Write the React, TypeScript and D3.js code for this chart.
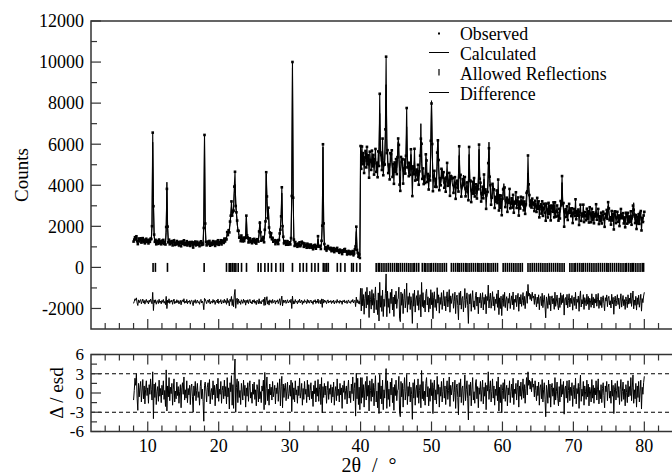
import * as d3 from "d3";

const startAngle = 8;
const angleStep = 0.1;

// calculated profile (counts), one row per degree starting at 8.0
const calculated = [
  1330, 1330, 1320, 1320, 1320, 1320, 1310, 1310, 1310, 1300,
  1300, 1300, 1290, 1290, 1290, 1280, 1280, 1280, 1270, 1270,
  1270, 1270, 1260, 1260, 1260, 1350, 2100, 6100, 3400, 1500,
  1290, 1240, 1240, 1240, 1230, 1230, 1230, 1230, 1220, 1220,
  1220, 1220, 1220, 1210, 1210, 1250, 1700, 4150, 1900, 1260,
  1200, 1200, 1200, 1190, 1190, 1190, 1190, 1180, 1180, 1180,
  1180, 1180, 1170, 1170, 1170, 1170, 1170, 1170, 1170, 1165,
  1165, 1165, 1160, 1160, 1160, 1160, 1160, 1160, 1155, 1155,
  1155, 1155, 1155, 1150, 1150, 1150, 1150, 1150, 1150, 1150,
  1150, 1150, 1150, 1150, 1150, 1150, 1150, 1150, 1200, 2300,
  6280, 2000, 1220, 1160, 1160, 1160, 1160, 1160, 1160, 1160,
  1160, 1165, 1165, 1170, 1170, 1170, 1175, 1175, 1180, 1180,
  1180, 1190, 1200, 1210, 1220, 1230, 1240, 1250, 1270, 1300,
  1330, 1480, 1550, 1620, 1750, 1900, 2100, 2500, 2950, 2700,
  2600, 3000, 3600, 4050, 3300, 2600, 2100, 1900, 1650, 1500,
  1420, 1400, 1450, 1380, 1340, 1320, 1310, 1350, 1600, 2450,
  1600, 1350, 1300, 1300, 1290, 1290, 1290, 1280, 1280, 1280,
  1280, 1280, 1290, 1290, 1290, 1300, 1350, 1600, 2250, 1700,
  1400, 1310, 1320, 1350, 1400, 1600, 2400, 4550, 3200, 2500,
  2850, 2100, 1600, 1500, 1600, 1450, 1320, 1290, 1270, 1250,
  1240, 1230, 1230, 1220, 1220, 1300, 1500, 2000, 2400, 3620,
  2200, 1400, 1220, 1200, 1190, 1180, 1170, 1170, 1160, 1160,
  1150, 1150, 1300, 3800, 9720, 3500, 1300, 1130, 1120, 1110,
  1100, 1100, 1090, 1090, 1085, 1080, 1080, 1150, 1300, 1150,
  1060, 1060, 1055, 1050, 1045, 1040, 1035, 1030, 1025, 1020,
  1020, 1015, 1010, 1005, 1000, 995, 990, 990, 985, 1050,
  1380, 1100, 975, 970, 1000, 1150, 2300, 5860, 2200, 1050,
  920, 915, 910, 905, 940, 990, 900, 890, 880, 870,
  860, 855, 850, 845, 840, 850, 880, 835, 815, 800,
  790, 785, 780, 775, 770, 765, 760, 780, 950, 760,
  720, 715, 710, 705, 700, 750, 720, 690, 685, 680,
  650, 645, 800, 1250, 1750, 900, 610, 600, 590, 570,
  5250, 5240, 5230, 5220, 5210, 5200, 5190, 5180, 5170, 5160,
  5150, 5140, 5130, 5120, 5110, 5100, 5090, 5080, 5070, 5060,
  5050, 5040, 5030, 5020, 5010, 5210, 5870, 7500, 5855, 5170,
  5210, 5700, 5200, 4920, 5230, 6300, 8900, 6290, 5190, 4860,
  4850, 4840, 5100, 5600, 5080, 4800, 4790, 4780, 4770, 4760,
  4750, 4860, 5260, 6100, 5250, 4820, 4690, 4900, 5300, 4880,
  4650, 4640, 4630, 4860, 5380, 6850, 5370, 4825, 4570, 4650,
  4880, 5500, 4870, 4520, 4510, 4745, 5200, 4725, 4470, 4460,
  4450, 4440, 4430, 4575, 5090, 7000, 5075, 4540, 4370, 4360,
  4350, 4600, 5100, 4590, 4310, 4300, 4290, 4280, 4570, 5570,
  8120, 5555, 4530, 4220, 4210, 4200, 4190, 4345, 4900, 6250,
  4885, 4310, 4130, 4120, 4350, 4800, 4330, 4080, 4070, 4060,
  4125, 4230, 4600, 4220, 4010, 4000, 3990, 4160, 4500, 4140,
  3950, 3940, 3930, 3920, 3910, 3900, 3890, 4040, 4565, 5450,
  4540, 3980, 3800, 3790, 4030, 4500, 4010, 3750, 3740, 3720,
  3700, 3860, 4320, 5500, 4310, 3820, 3640, 3630, 3620, 3850,
  4300, 3830, 3580, 3570, 3560, 3740, 4385, 5750, 4370, 3705,
  3500, 3490, 3480, 3760, 4300, 3740, 3440, 3430, 3420, 3605,
  4260, 6100, 4245, 3570, 3360, 3350, 3570, 4000, 3550, 3310,
  3300, 3290, 3350, 3400, 3700, 3390, 3315, 3230, 3220, 3210,
  3255, 3440, 4080, 3425, 3220, 3150, 3140, 3130, 3120, 3210,
  3400, 3200, 3080, 3070, 3060, 3050, 3040, 3075, 3130, 3330,
  3130, 3050, 2990, 2980, 2975, 2970, 3080, 3300, 3075, 2950,
  2945, 2940, 2935, 2930, 3120, 3770, 4600, 3765, 3100, 2900,
  2890, 2885, 2880, 2875, 2870, 2865, 2860, 2895, 2950, 3150,
  2940, 2870, 2820, 2815, 2810, 2800, 2795, 2790, 2785, 2780,
  2870, 3050, 2860, 2755, 2750, 2745, 2740, 2730, 2725, 2720,
  2715, 2810, 3000, 2800, 2695, 2690, 2685, 2680, 2675, 2670,
  2660, 2655, 2790, 3150, 4130, 3140, 2775, 2625, 2620, 2615,
  2610, 2605, 2600, 2595, 2700, 2900, 2690, 2575, 2570, 2565,
  2560, 2610, 2680, 2850, 2680, 2595, 2535, 2530, 2525, 2520,
  2520, 2515, 2510, 2580, 2700, 2575, 2490, 2490, 2485, 2480,
  2480, 2475, 2570, 2750, 2565, 2465, 2460, 2460, 2455, 2450,
  2450, 2535, 2700, 2530, 2435, 2435, 2430, 2425, 2425, 2420,
  2420, 2415, 2415, 2410, 2405, 2405, 2400, 2460, 2600, 2990,
  2600, 2445, 2385, 2380, 2375, 2375, 2370, 2450, 2600, 2445,
  2360, 2355, 2355, 2350, 2345, 2345, 2340, 2450, 2650, 2445,
  2330, 2325, 2325, 2320, 2415, 2600, 2410, 2310, 2305, 2300,
  2300, 2295, 2295, 2335, 2480, 3150, 2475, 2325, 2275, 2270,
  2270, 2265, 2265, 2380, 2600, 2375, 2250, 2250, 2245, 2240,
  2240,
];

// (observed - calculated) / esd, same grid
const residual = [
  -1.1, 0.4, 2.3, 1.2, 3.0, -0.8, -2.7, 1.5, -0.6, 0.9,
  1.8, -1.4, 0.3, 2.1, -0.9, 1.1, -1.7, 0.6, 1.9, -0.4,
  0.8, -1.6, 1.3, -0.2, 2.2, 0.5, -1.1, 3.3, -4.0, 1.4,
  -0.7, 1.6, -1.8, 0.2, 1.0, -1.3, 2.0, -0.5, 0.7, -1.5,
  1.2, -0.3, 1.9, -1.0, 0.4, -2.1, 3.6, -2.8, 1.1, -0.6,
  2.4, -1.2, 0.9, -0.1, 1.5, -1.9, 0.6, 2.2, -1.4, 0.3,
  -0.9, 1.7, -0.4, 1.0, -1.6, 0.2, 1.3, -2.3, 0.8, 1.6,
  -0.2, 2.5, -1.1, 0.5, -0.8, 1.9, -1.5, 0.7, -0.3, 1.2,
  -1.8, 0.9, 1.4, -0.6, -3.0, 1.1, -0.4, 1.8, -1.2, 0.4,
  1.5, -0.7, 0.2, -1.9, 1.0, 2.0, -0.9, 0.6, -1.3, -4.4,
  1.2, 1.7, 0.3, -1.4, 0.9, 1.6, -0.5, 2.1, -1.7, 0.1,
  0.7, -1.0, 1.9, -0.3, 1.2, -2.0, 0.5, 1.4, -0.8, 2.3,
  -1.3, 0.6, -0.2, 1.8, -1.6, 0.4, 1.1, -0.9, 2.0, -0.5,
  1.0, -1.7, 2.4, -0.6, 0.8, -2.5, 1.6, 0.2, 2.7, -1.9,
  1.3, -2.4, 3.1, 5.3, -3.0, 0.9, 2.2, -1.5, 1.8, -0.7,
  0.4, -1.8, 1.5, 0.3, -1.1, 2.0, -0.4, 1.2, -2.2, 0.8,
  -0.5, 1.6, -1.3, 0.9, 1.9, -0.8, 0.1, -1.6, 1.4, -0.2,
  1.7, -1.0, 0.5, -2.0, 1.3, 0.6, -1.4, 2.1, -0.9, 0.2,
  -1.5, 1.1, 0.3, 2.0, -2.6, 3.2, -1.8, 0.7, 2.5, -1.2,
  0.6, -1.9, 1.4, -0.3, 0.9, -1.1, 1.8, -0.6, 0.2, 1.2,
  -1.7, 0.8, -0.1, 1.6, -1.3, 0.5, 2.2, -2.0, 1.0, 2.6,
  -2.3, 1.4, -0.7, 0.9, 1.5, -1.2, 0.3, 1.7, -0.9, -0.1,
  1.2, -0.5, 2.0, -2.9, 1.6, -1.0, 0.8, -1.4, 1.9, -0.3,
  0.5, -1.6, 1.1, -0.4, 2.3, -0.8, 0.1, 1.5, -1.9, 0.7,
  -1.0, 1.8, -0.2, 0.6, -1.5, 2.0, -0.6, 1.3, -1.1, 0.4,
  1.6, -0.9, 0.3, -2.1, 1.2, -0.1, 1.9, -1.4, 0.8, -0.5,
  2.1, -1.3, 0.6, 1.4, -1.8, 2.4, -3.1, 1.0, -0.7, 1.5,
  -0.3, 1.1, -1.6, 0.4, 1.8, -1.0, 0.7, -0.2, 1.3, -1.5,
  0.9, -0.6, 1.7, -1.9, 0.2, 1.0, -1.2, 2.2, -0.4, 0.6,
  -1.4, 1.5, -0.3, 0.8, -2.4, 1.2, 0.1, 1.9, -1.0, 0.4,
  1.1, -1.7, 0.6, 2.0, -0.8, 0.3, -1.5, 1.4, -0.1, 2.5,
  -1.2, 0.7, 1.6, -3.6, 3.1, -0.9, 2.3, -1.8, 0.9, -2.6,
  2.4, -1.6, 2.4, -0.7, 1.3, -2.2, 0.6, 1.8, -1.1, 2.6,
  -0.5, 1.2, -2.8, 1.9, 0.4, -1.3, 2.2, -0.6, 1.5, -2.0,
  0.8, 2.7, -1.4, 0.3, -2.3, 1.6, -3.2, 2.9, -0.9, 1.1,
  -1.7, 2.0, -2.6, 0.5, -0.8, 1.4, 3.8, -2.4, 1.9, -1.0,
  0.6, -2.1, 1.7, -0.3, 2.3, -1.5, 0.9, -2.7, 1.3, -0.4,
  2.0, -1.2, 0.4, 0.6, 2.6, -3.0, -3.7, 1.8, -0.6, 1.5,
  -2.2, 0.7, 2.4, -1.1, 0.2, 2.9, -1.8, 1.0, -0.5, 1.7,
  -1.4, 0.9, -0.2, -4.1, 1.6, -0.8, 2.1, -1.9, 0.5, 1.2,
  -0.7, 2.2, -1.6, 0.4, 1.3, -2.3, 3.5, -0.9, 1.8, -1.2,
  0.3, -1.9, 1.5, 2.4, -0.6, 1.0, -2.0, 0.7, -1.3, 2.1,
  -0.4, 1.6, -3.2, 0.8, 2.0, -1.1, 0.5, -1.7, 2.6, -0.2,
  1.3, -2.2, 0.9, -0.5, 1.8, -1.4, 0.2, 2.3, -0.8, 1.1,
  -1.8, 0.6, 1.9, -1.0, 0.4, 2.5, -2.1, 1.2, -0.3, 0.8,
  1.7, -1.3, 0.1, 2.0, -2.4, 0.9, 1.4, -0.7, -3.4, 1.6,
  -0.6, 2.2, -1.5, 0.7, 1.1, -1.9, 0.3, 2.8, -1.2, 0.5,
  1.9, -0.8, -4.2, 1.3, -0.4, 1.7, -2.0, 0.6, 2.4, -1.1,
  0.2, -1.6, 1.4, 2.1, -0.9, 1.0, -2.3, 0.8, -0.2, 1.8,
  -1.3, 0.5, 2.0, -1.7, 0.9, -0.5, 1.6, -2.6, 1.2, 0.3,
  3.3, -1.0, 0.7, 1.9, -1.4, 0.2, 2.2, -0.8, 1.1, -1.9,
  0.6, -0.4, 1.8, -1.2, 2.5, -2.8, 0.9, -1.5, 1.3, -3.1,
  0.4, 1.6, -0.9, 2.1, -1.3, 0.5, 1.2, -2.0, 0.8, -0.3,
  1.9, -1.5, 0.2, 1.4, -0.7, 2.3, -1.8, 0.6, -0.1, 1.5,
  -1.1, 0.9, 2.0, -2.2, 1.1, -0.5, 1.7, -1.0, 0.3, 2.2,
  -0.8, 1.3, -1.6, 0.7, 2.4, -0.3, 3.3, 1.2, 2.0, 0.6,
  1.8, 0.2, 2.3, 0.9, 1.4, -0.6, 1.9, 0.4, -1.2, 1.1,
  -0.4, 1.7, -1.9, 0.8, 1.3, -0.9, 2.1, -1.4, 0.5, 1.6,
  -1.0, -3.7, 1.2, 0.3, -1.6, 2.0, -0.7, 1.4, -2.2, 0.9,
  1.5, -0.5, 0.8, -1.8, 2.4, -1.1, 0.2, 1.7, -0.9, -2.0,
  1.0, -1.4, 2.2, -0.6, 1.3, -0.2, 1.8, -3.3, 0.7, 1.1,
  -0.8, 1.9, -1.5, 0.4, 2.0, -1.2, 0.9, -0.4, 1.6, -2.1,
  0.5, 1.2, -0.9, 2.3, -1.7, 0.7, -0.1, 1.5, -2.4, 1.0,
  2.8, -1.3, 0.6, -0.5, 1.8, -1.9, 1.1, 0.2, -1.0, 2.0,
  -0.6, 1.4, -2.0, 0.9, 0.3, -1.4, 2.1, -0.8, 1.2, -1.6,
  0.8, -0.3, 1.9, -1.1, 0.6, 2.2, -1.7, 0.4, -0.9, 1.3,
  -1.5, 0.7, 1.6, -0.4, -2.3, 1.1, 0.2, 1.8, -1.2, 0.9,
  1.4, -0.8, 0.3, -1.6, 2.0, -0.5, 1.2, -3.2, 0.6, 1.5,
  -1.1, 0.4, 1.9, -0.7, 1.0, -1.8, 0.5, 2.1, -1.3, 0.2,
  1.7, -1.0, 0.6, -2.0, 1.3, 0.1, -1.5, 1.9, -0.6, 1.0,
  -0.4, 2.4, -1.2, 0.8, 2.8, -1.6, 0.5, -0.9, 1.5, -2.2,
  1.1, -0.7, 1.8, -1.4, 0.3, 2.0, -2.5, 0.9, -0.2, 1.6,
  2.6,
];

// counting statistics: esd = factor * sqrt(counts), longer count time above 40 deg
const esdFactors = [
  { from: 0, to: 40, factor: 1.8 },
  { from: 40, to: 90, factor: 3.8 },
];

const differenceOffset = -1680;

const reflections = [
  10.75, 11.08, 12.78, 17.95, 21.1, 21.48, 21.71, 21.95, 22.18, 22.42, 22.75,
  23.22, 23.92, 25.57, 25.95, 26.51, 26.98, 27.45, 28.06, 28.72, 29.1, 30.4,
  31.45, 31.92, 32.39, 33.1, 33.57, 34.04, 34.74, 34.98, 35.21, 35.45, 36.72,
  37.19, 37.8, 38.74, 38.98, 39.45, 39.92,
  42.2, 42.5, 42.7, 43.0, 43.3, 43.6, 43.9, 44.2, 44.5, 44.8, 45.1, 45.3, 45.6,
  45.9, 46.2, 46.5, 46.8, 47.1, 47.4, 47.6, 47.9, 48.2, 48.7, 49.0, 49.2, 49.5,
  49.8, 50.0, 50.3, 50.6, 50.9, 51.2, 51.5, 51.8, 52.1, 52.8, 53.1, 53.4, 53.7,
  53.9, 54.2, 54.5, 54.8, 55.0, 55.3, 55.6, 55.9, 56.2, 56.5, 56.7, 57.0, 57.3,
  57.6, 57.9, 58.1, 58.4, 58.7, 59.0, 59.3, 60.1, 60.4, 60.7, 61.0, 61.3, 61.6,
  61.9, 62.2, 62.5, 62.8, 63.6, 63.9, 64.2, 64.5, 64.8, 65.1, 65.4, 65.7, 66.0,
  66.3, 66.6, 66.9, 67.2, 67.5, 67.8, 68.1, 68.4, 68.7, 69.5, 69.8, 70.1, 70.3,
  70.6, 70.9, 71.2, 71.4, 71.7, 72.0, 72.3, 72.6, 72.9, 73.2, 73.5, 73.8, 74.1,
  74.4, 74.7, 74.9, 75.2, 75.5, 75.8, 76.1, 76.4, 76.7, 77.0, 77.3, 77.5, 77.8,
  78.1, 78.3, 78.5, 78.8, 79.1, 79.4, 79.7, 79.9,
];

const countTicks = [-2000, 0, 2000, 4000, 6000, 8000, 10000, 12000];
const countMinorTicks = [-1000, 1000, 3000, 5000, 7000, 9000, 11000];
const residualTicks = [-6, -3, 0, 3, 6];
const residualMinorTicks = [-4.5, -1.5, 1.5, 4.5];
const residualGuides = [-3, 3];
const angleTicks = [10, 20, 30, 40, 50, 60, 70, 80];
const angleMinorTicks = [4, 6, 8, 12, 14, 16, 18, 22, 24, 26, 28, 32, 34, 36, 38, 42, 44, 46, 48, 52, 54, 56, 58, 62, 64, 66, 68, 72, 74, 76, 78, 82, 84];
const legendItems = ["Observed", "Calculated", "Allowed Reflections", "Difference"];

const width = 672;
const height = 476;
const font = '"Liberation Serif", "DejaVu Serif", "Times New Roman", serif';

export default function App() {
  const x = d3.scaleLinear().domain([2, 85]).range([91, 679.8]);
  const yMain = d3.scaleLinear().domain([-3000, 12000]).range([329, 21]);
  const yRes = d3.scaleLinear().domain([-6, 6]).range([431.5, 354.5]);

  const points = calculated.map((c, i) => {
    const t = Math.round((startAngle + i * angleStep) * 10) / 10;
    const f = esdFactors.find((r) => t >= r.from && t < r.to)?.factor ?? 3.8;
    const esd = f * Math.sqrt(c);
    const r = residual[i] ?? 0;
    return { t, calc: c, obs: c + r * esd, diff: r * esd, res: r };
  });

  type P = (typeof points)[number];
  const calcLine = d3.line<P>().x((d) => x(d.t)).y((d) => yMain(d.calc));
  const obsLine = d3.line<P>().x((d) => x(d.t)).y((d) => yMain(d.obs));
  const diffLine = d3.line<P>().x((d) => x(d.t)).y((d) => yMain(d.diff + differenceOffset));
  const resLine = d3.line<P>().x((d) => x(d.t)).y((d) => yRes(d.res));

  const mainTop = yMain(12000);
  const mainBottom = yMain(-3000);
  const resTop = yRes(6);
  const resBottom = yRes(-6);
  const left = x(2);
  const right = x(85);
  const frame = "#333";
  const legendX = 439;
  const legendBase = [39.5, 59.5, 79.5, 99.5];

  return (
    <svg
      width={width}
      height={height}
      style={{ position: "absolute", left: 0, top: 0, background: "white", fontFamily: font }}>
      {/* main panel */}
      <path d={calcLine(points) ?? ""} fill="none" stroke="black" strokeWidth={1} />
      <path d={obsLine(points) ?? ""} fill="none" stroke="black" strokeWidth={1.1} />
      {points.map((d, i) => (
        <rect key={i} x={x(d.t) - 1.3} y={yMain(d.obs) - 1.3} width={2.6} height={2.6} fill="black" />
      ))}
      <path d={diffLine(points) ?? ""} fill="none" stroke="black" strokeWidth={1} />
      {reflections.map((t, i) => (
        <line
          key={i}
          x1={x(t)}
          x2={x(t)}
          y1={yMain(0) - 4.5}
          y2={yMain(0) + 4.5}
          stroke="black"
          strokeWidth={1.6}
        />
      ))}

      <path
        d={`M${right},${mainTop}H${left}V${mainBottom}H${right}`}
        fill="none"
        stroke={frame}
        strokeWidth={1.5}
      />
      {countTicks.map((v) => (
        <g key={v}>
          <line x1={left} x2={left + 10} y1={yMain(v)} y2={yMain(v)} stroke={frame} strokeWidth={1.2} />
          <text x={84} y={yMain(v)} dy="0.35em" textAnchor="end" fontSize={18}>
            {v}
          </text>
        </g>
      ))}
      {countMinorTicks.map((v) => (
        <line key={v} x1={left} x2={left + 6} y1={yMain(v)} y2={yMain(v)} stroke={frame} strokeWidth={1.2} />
      ))}
      {angleTicks.map((t) => (
        <g key={t}>
          <line x1={x(t)} x2={x(t)} y1={mainBottom} y2={mainBottom - 10} stroke={frame} strokeWidth={1.2} />
          <line x1={x(t)} x2={x(t)} y1={resTop} y2={resTop + 10} stroke={frame} strokeWidth={1.2} />
          <line x1={x(t)} x2={x(t)} y1={resBottom} y2={resBottom - 10} stroke={frame} strokeWidth={1.2} />
          <text x={x(t)} y={451.5} textAnchor="middle" fontSize={18}>
            {t}
          </text>
        </g>
      ))}
      {angleMinorTicks.map((t) => (
        <g key={t}>
          <line x1={x(t)} x2={x(t)} y1={mainBottom} y2={mainBottom - 6} stroke={frame} strokeWidth={1.2} />
          <line x1={x(t)} x2={x(t)} y1={resTop} y2={resTop + 6} stroke={frame} strokeWidth={1.2} />
          <line x1={x(t)} x2={x(t)} y1={resBottom} y2={resBottom - 6} stroke={frame} strokeWidth={1.2} />
        </g>
      ))}
      <text
        transform={`translate(21,${(mainTop + mainBottom) / 2}) rotate(-90)`}
        textAnchor="middle"
        dy="0.35em"
        fontSize={19}>
        Counts
      </text>

      {/* legend */}
      <rect x={legendX - 1} y={legendBase[0] - 7} width={2} height={2} fill="black" />
      <line x1={legendX - 10} x2={legendX + 10} y1={legendBase[1] - 7} y2={legendBase[1] - 7} stroke="black" />
      <line x1={legendX} x2={legendX} y1={legendBase[2] - 10.5} y2={legendBase[2] - 4} stroke="black" strokeWidth={1.2} />
      <line x1={legendX - 10} x2={legendX + 10} y1={legendBase[3] - 7} y2={legendBase[3] - 7} stroke="black" />
      {legendItems.map((label, i) => (
        <text key={label} x={460} y={legendBase[i]} fontSize={17.8}>
          {label}
        </text>
      ))}

      {/* residual panel */}
      {residualGuides.map((v) => (
        <line
          key={v}
          x1={left}
          x2={right}
          y1={yRes(v)}
          y2={yRes(v)}
          stroke="black"
          strokeWidth={1}
          strokeDasharray="4,3"
        />
      ))}
      <path d={resLine(points) ?? ""} fill="none" stroke="black" strokeWidth={1} />
      <rect
        x={left}
        y={resTop}
        width={right - left}
        height={resBottom - resTop}
        fill="none"
        stroke={frame}
        strokeWidth={1.5}
      />
      {residualTicks.map((v) => (
        <g key={v}>
          <line x1={left} x2={left + 10} y1={yRes(v)} y2={yRes(v)} stroke={frame} strokeWidth={1.2} />
          <text x={84} y={yRes(v)} dy="0.35em" textAnchor="end" fontSize={17}>
            {v}
          </text>
        </g>
      ))}
      {residualMinorTicks.map((v) => (
        <line key={v} x1={left} x2={left + 6} y1={yRes(v)} y2={yRes(v)} stroke={frame} strokeWidth={1.2} />
      ))}
      <text
        transform={`translate(56,${(resTop + resBottom) / 2}) rotate(-90)`}
        textAnchor="middle"
        dy="0.35em"
        fontSize={19}>
        Δ / esd
      </text>
      <text x={369} y={472} textAnchor="middle" fontSize={20} style={{ wordSpacing: "6px" }}>
        2θ / °
      </text>
    </svg>
  );
}
